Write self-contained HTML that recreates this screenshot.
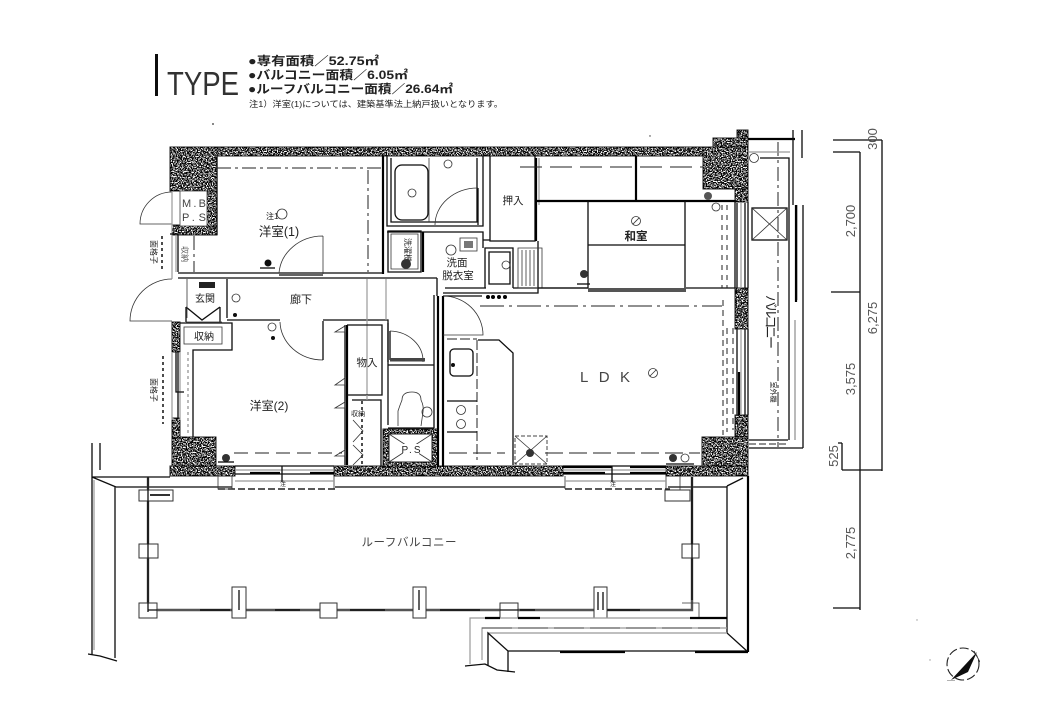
<!DOCTYPE html>
<html><head><meta charset="utf-8"><style>
html,body{margin:0;padding:0;background:#fff;width:1040px;height:720px;overflow:hidden}
svg{display:block}
text{font-family:"Liberation Sans","Noto Sans CJK JP",sans-serif;fill:#222}
.k{stroke:#111;stroke-width:1.3;fill:none}
.b{stroke:#000;stroke-width:2.2;fill:none}
.t{stroke:#333;stroke-width:.8;fill:none}
.g{stroke:#999;stroke-width:1.2;fill:none}
.d{stroke:#222;stroke-width:1;fill:none;stroke-dasharray:14 4 3 4}
.s{stroke:#222;stroke-width:1.6;fill:none;stroke-dasharray:3 3}
.n{fill:#555;font-size:13px}
</style></head><body>
<svg width="1040" height="720" viewBox="0 0 1040 720" xmlns="http://www.w3.org/2000/svg">
<defs>
<filter id="h" filterUnits="userSpaceOnUse" x="0" y="0" width="1040" height="720" color-interpolation-filters="sRGB">
<feTurbulence type="fractalNoise" baseFrequency="0.8" numOctaves="2" seed="7"/>
<feColorMatrix type="matrix" values="0 0 0 0 0  0 0 0 0 0  0 0 0 0 0  8 0 0 0 -3.2"/>
<feComposite in2="SourceAlpha" operator="in"/>
</filter>
<filter id="sf" x="0" y="0" width="1" height="1"><feGaussianBlur stdDeviation="0.35"/></filter>
</defs>
<rect width="1040" height="720" fill="#fff"/>
<g filter="url(#sf)">

<!-- heading -->
<rect x="155" y="54" width="3" height="42" fill="#111"/>
<text x="167" y="95" font-size="33" textLength="72" lengthAdjust="spacingAndGlyphs" style="fill:#333">TYPE</text>
<text x="248" y="65" font-size="12" font-weight="bold" textLength="131" lengthAdjust="spacingAndGlyphs">●専有面積／52.75㎡</text>
<text x="248" y="79" font-size="12" font-weight="bold" textLength="160" lengthAdjust="spacingAndGlyphs">●バルコニー面積／6.05㎡</text>
<text x="248" y="93" font-size="12" font-weight="bold" textLength="205" lengthAdjust="spacingAndGlyphs">●ルーフバルコニー面積／26.64㎡</text>
<text x="249" y="107" font-size="8.5" textLength="254" lengthAdjust="spacingAndGlyphs">注1）洋室(1)については、建築基準法上納戸扱いとなります。</text>

<!-- hatch walls -->
<g fill="#fff" stroke="#222" stroke-width="1">
<rect x="170" y="147" width="578" height="9"/>
<rect x="170" y="147" width="47" height="44"/>
<rect x="172" y="225" width="45" height="10"/>
<rect x="703" y="147" width="45" height="42"/>
<rect x="735" y="189" width="13" height="13"/>
<rect x="735" y="288" width="13" height="41"/>
<rect x="735" y="415" width="13" height="61"/>
<rect x="702" y="437" width="46" height="39"/>
<rect x="172" y="437" width="44" height="39"/>
<rect x="172" y="418" width="8" height="20"/>
<rect x="172" y="322" width="8" height="30"/>
<rect x="170" y="466" width="65" height="10"/>
<rect x="334" y="466" width="229" height="10"/>
<rect x="666" y="466" width="82" height="10"/>
<rect x="713" y="138" width="35" height="9"/>
<rect x="737" y="130" width="11" height="8"/>
<rect x="207" y="191" width="10" height="36"/>
<rect x="383" y="429" width="55" height="38"/>
</g>
<g fill="#000" filter="url(#h)">
<rect x="170" y="147" width="578" height="9"/>
<rect x="170" y="147" width="47" height="44"/>
<rect x="172" y="225" width="45" height="10"/>
<rect x="703" y="147" width="45" height="42"/>
<rect x="735" y="189" width="13" height="13"/>
<rect x="735" y="288" width="13" height="41"/>
<rect x="735" y="415" width="13" height="61"/>
<rect x="702" y="437" width="46" height="39"/>
<rect x="172" y="437" width="44" height="39"/>
<rect x="172" y="418" width="8" height="20"/>
<rect x="172" y="322" width="8" height="30"/>
<rect x="170" y="466" width="65" height="10"/>
<rect x="334" y="466" width="229" height="10"/>
<rect x="666" y="466" width="82" height="10"/>
<rect x="713" y="138" width="35" height="9"/>
<rect x="737" y="130" width="11" height="8"/>
<rect x="207" y="191" width="10" height="36"/>
<rect x="383" y="429" width="55" height="38"/>
</g>
<rect x="389" y="434" width="43" height="28" fill="#fff" stroke="#222"/>
<rect x="180" y="191" width="27" height="35" fill="#fff" stroke="#444" stroke-width=".8"/>

<!-- left exterior and doors -->
<path class="t" d="M172 192A32 32 0 0 0 140 224H172"/>
<path class="t" d="M172 279A42 42 0 0 0 130 321H172"/>
<path class="g" d="M172 191V279M176 234V272M172 352V420M180 352V420"/>
<path class="k" d="M170 234H178V272M176 352V392H184M178 352V418"/>
<path class="s" d="M162 236V272M163 356V424" stroke-width="2.5"/>
<path class="d" d="M194 236V272"/>
<text x="194" y="207" font-size="11" text-anchor="middle" textLength="24" style="fill:#444">M.B</text>
<text x="194" y="221" font-size="11" text-anchor="middle" textLength="24" style="fill:#444">P.S</text>
<text transform="translate(151,252) rotate(90)" font-size="8" text-anchor="middle">面格子</text>
<text transform="translate(151,390) rotate(90)" font-size="8" text-anchor="middle">面格子</text>
<text transform="translate(182,254) rotate(90)" font-size="8" text-anchor="middle" style="fill:#666">収納</text>

<!-- Room 1 -->
<path class="k" d="M217 156V235"/>
<path class="b" d="M383 156V274"/>
<path class="d" d="M217 168H381M368 170V272"/>
<path class="k" d="M178 273H279M323 273H383M178 278H437"/>
<rect x="279" y="272" width="44" height="4" fill="#666"/>
<path class="t" d="M323 236V274M323 236A44 40 0 0 0 279 273"/>
<text x="279" y="236" font-size="12.5" text-anchor="middle">洋室(1)</text>
<text x="266" y="219" font-size="8">注1</text>
<circle cx="282" cy="214" r="5" class="t"/>
<circle cx="268" cy="263" r="3.5" fill="#111"/><path class="k" d="M260 268H275"/>

<!-- corridor -->
<path class="k" d="M227 279V318M227 320H280M323 320H388V323M437 278V296M388 323V362"/>
<text x="301" y="303" font-size="11" text-anchor="middle">廊下</text>
<text x="205" y="302" font-size="10" text-anchor="middle">玄関</text>
<circle cx="236" cy="298" r="4" class="t"/><circle cx="235" cy="315" r="2" fill="#111"/>
<path class="k" d="M186 307V322M220 307V322M186 307L202 320L220 307"/><path class="t" d="M186 322H222"/>
<rect x="199" y="282" width="16" height="6" fill="#222"/>
<path class="t" d="M187 279V318"/>
<path class="g" d="M367 279V395M386 279V320"/>
<!-- storage near entry -->
<path class="k" d="M180 323H232V350H193V437"/>
<rect x="184" y="327" width="38" height="17" class="t"/>
<text x="204" y="340" font-size="10" text-anchor="middle">収納</text>
<path class="s" style="stroke:#aaa" d="M188 352V437"/>

<!-- room 2 -->
<path class="t" d="M323 321V360M323 360A43 39 0 0 1 280 322"/>
<path class="k" d="M323 321V360"/>
<circle cx="272" cy="327" r="4" class="t"/><circle cx="273" cy="338" r="2" fill="#111"/>
<text x="269" y="410" font-size="12" text-anchor="middle">洋室(2)</text>
<path class="k" d="M345 325V465"/>
<path class="b" d="M347 325V465" stroke-width="1.2"/>
<path class="k" d="M347 325H382V395H347M352 400H381V466"/>
<text x="367" y="366" font-size="10.5" text-anchor="middle">物入</text>
<path class="t" d="M345 332L335 332L345 326ZM345 385L335 385L345 378ZM345 408L335 408L345 402ZM345 456L335 456L345 450Z"/>
<path class="s" d="M362 401V465" stroke-width="1.2"/>
<path class="t" d="M353 420L363 431L353 442M353 445L363 455L353 465"/>
<text x="358" y="416" font-size="7" text-anchor="middle">収納</text>
<path class="g" d="M367 395V400"/>
<path class="d" d="M234 453H342" style="stroke-dasharray:14 7"/>
<circle cx="226" cy="458" r="4" fill="#333"/><path class="k" d="M218 462H234"/>

<!-- toilet -->
<path class="k" d="M388 323V425M388 365H434M434 295V428M388 428H434"/>
<path class="k" d="M390 331V360"/>
<path class="t" d="M390 331A34 30 0 0 1 423 362"/>
<rect x="390" y="358" width="35" height="3.5" fill="#444"/>
<path class="t" d="M398 426V411Q400 405 402 400Q402 392 412 392Q421 392 421 400Q424 406 423 412L421 426"/>
<circle cx="427" cy="412" r="5" class="t"/>
<path class="b" d="M438 296V467" stroke-width="1.5"/><path class="b" d="M443 296V467" stroke-width="1.5"/>
<path class="t" d="M389 434L432 462M432 434L389 462"/>
<rect x="403" y="444" width="16" height="11" fill="#fff"/>
<text x="411" y="453" font-size="10" text-anchor="middle" textLength="19">P.S</text>

<!-- bath -->
<path class="k" d="M387 156V226H483V156"/>
<path class="k" d="M391 158V222H477V158"/>
<rect x="395" y="165" width="33" height="55" rx="7" class="k"/>
<path class="t" d="M429 158V222"/>
<circle cx="412" cy="193" r="4" class="t"/><circle cx="448" cy="164" r="4" class="t"/>
<path class="k" d="M478 188V225"/><path class="t" d="M478 188A43 37 0 0 0 435 225"/>

<!-- washing -->
<path class="k" d="M388 231H421V272H388Z"/>
<path class="t" d="M391 234H418V269H391Z"/>
<text transform="translate(405,250) rotate(90)" font-size="8" text-anchor="middle">洗濯機</text>
<circle cx="406" cy="264" r="5" fill="#333"/>
<path class="b" d="M423 232V272" stroke-width="1.6"/>
<path class="k" d="M387 232H483V248M483 232V240H490"/>
<circle cx="451" cy="250" r="5" class="t"/>
<rect x="460" y="238" width="17" height="13" class="t"/><rect x="464" y="241" width="9" height="7" fill="#777"/>
<text x="457" y="266" font-size="10.5" text-anchor="middle">洗面</text>
<text x="458" y="279" font-size="10.5" text-anchor="middle">脱衣室</text>
<path class="k" d="M485 288V248H513V288M489 252H510V284H489Z"/>
<circle cx="506" cy="265" r="4" class="t"/>
<path class="k" d="M443 293H538V241"/>
<path class="k" d="M445 288H486M513 288H588M443 296H482"/>
<circle cx="488" cy="297" r="2" fill="#000"/><circle cx="493" cy="297" r="2" fill="#000"/><circle cx="499" cy="297" r="2" fill="#000"/><circle cx="505" cy="297" r="2" fill="#000"/>
<path class="t" d="M518 248H542V288H518ZM522 250V286M526 250V286M530 250V286M534 250V286"/>

<!-- closet + washitsu -->
<path class="k" d="M490 156V241H535V156"/>
<path class="b" d="M536 158V241" stroke-width="1.5"/>
<path class="g" d="M539 158V205" stroke-width="3"/>
<text x="513" y="204" font-size="10.5" text-anchor="middle">押入</text>
<path class="d" d="M520 167H703" style="stroke-dasharray:22 8"/>
<path class="b" d="M636 156V201" stroke-width="1"/>
<path class="b" d="M537 201H735" stroke-width="1.6"/>
<path class="k" d="M588 201V288M685 201V288M588 245H685" stroke-width="1"/>
<path class="k" d="M538 288H588M686 288H735M735 201V288"/>
<rect x="588" y="288" width="98" height="4" fill="#555"/>
<circle cx="636" cy="221" r="4.5" class="t"/><path class="t" d="M633 224L639 218"/>
<text x="636" y="240" font-size="11.5" text-anchor="middle" font-weight="bold">和室</text>
<circle cx="584" cy="274" r="4" fill="#333"/><path class="k" d="M577 284H590"/>
<path class="d" d="M722 205V288M727 205V288" style="stroke-dasharray:5 5"/>
<path class="k" d="M737 203V288M745 203V290" />
<path class="g" d="M741 203V288" stroke-width="2"/>
<circle cx="708" cy="196" r="4" fill="#555"/><circle cx="716" cy="207" r="4" class="t"/>

<!-- LDK -->
<path class="t" d="M443 296A40 39 0 0 1 483 335H443"/>
<path class="k" d="M478 340H499L513 353V465"/>
<path class="d" d="M447 339H477M477 340V460" style="stroke-dasharray:10 3"/>
<rect x="450" y="349" width="23" height="27" rx="4" class="k"/>
<circle cx="453" cy="365" r="2" fill="#111"/>
<path class="k" d="M447 401H477M447 432H477"/>
<circle cx="461" cy="410" r="4.5" class="t"/><circle cx="461" cy="424" r="4.5" class="t"/>
<path class="d" d="M449 453H505M545 453H700" style="stroke-dasharray:18 6"/>
<path class="d" d="M480 306H722" style="stroke-dasharray:24 5 3 5"/>
<path class="d" d="M723 300V435M727 328V432M733 328V430" style="stroke-dasharray:6 4"/>
<path class="k" d="M737 329V415M745 329V415"/><path class="g" d="M741 329V415" stroke-width="2"/>
<path class="b" d="M739 372V415" stroke-width="1.5"/>
<text x="605" y="382" font-size="15" text-anchor="middle" textLength="50" style="fill:#444">LDK</text>
<circle cx="653" cy="373" r="4.5" class="t"/><path class="t" d="M650 376L656 370"/>
<rect x="515" y="436" width="32" height="28" style="stroke:#444;stroke-dasharray:4 2;fill:none"/>
<path class="t" d="M515 436L547 464M547 436L515 464"/>
<circle cx="530" cy="453" r="4" fill="#333"/>
<circle cx="673" cy="458" r="4" fill="#333"/><circle cx="685" cy="458" r="4" class="t"/><path class="k" d="M666 464H694"/>

<!-- balcony windows bottom -->
<path class="k" d="M235 466H334M235 474H334M563 466H666M563 474H666"/>
<path class="g" d="M235 470H334M563 470H666" stroke-width="2"/>
<path class="b" d="M250 473H280M310 473H334M563 467H612M630 467H666M563 473H605M630 473H666" stroke-width="1.2"/>

<!-- right balcony -->
<path class="b" d="M748 139H795" stroke-width="1.6"/>
<path class="k" d="M748 202V288M748 329V415"/>
<path class="d" d="M778 142V447" stroke-width="1.3"/>
<path class="g" d="M749 152H790"/>
<path class="k" d="M760 158H789V440M793 130V205M802 130V158M803 205V448M749 448H803"/>
<path class="g" d="M797 205V300M795 320V440" stroke-width="2"/>
<path class="b" d="M796 205V302" stroke-width="1.2"/>
<path class="k" d="M749 440H788"/>
<path class="g" d="M795 320V440"/>
<path class="d" d="M749 444H787" style="stroke-dasharray:7 3"/>
<rect x="752" y="208" width="35" height="32" class="k"/>
<path class="t" d="M752 208L787 240M787 208L752 240"/>
<circle cx="754" cy="158" r="4.5" class="t"/>
<text transform="translate(766,322) rotate(90)" font-size="13" text-anchor="middle" textLength="54">バルコニー</text>
<text transform="translate(771,392) rotate(90)" font-size="7" text-anchor="middle">室外機</text>

<!-- dimensions -->
<path class="k" d="M882 140V471M833 140H882M833 152H860M860 152V610M831 292H860M842 470H882M842 443V470M838 443H842M833 608H860" stroke-width="1"/>
<text class="n" transform="translate(877,139) rotate(-90)" text-anchor="middle">300</text>
<text class="n" transform="translate(855,221) rotate(-90)" text-anchor="middle">2,700</text>
<text class="n" transform="translate(877,318) rotate(-90)" text-anchor="middle">6,275</text>
<text class="n" transform="translate(855,379) rotate(-90)" text-anchor="middle">3,575</text>
<text class="n" transform="translate(838,456) rotate(-90)" text-anchor="middle">525</text>
<text class="n" transform="translate(855,543) rotate(-90)" text-anchor="middle">2,775</text>

<!-- roof balcony -->
<path class="k" d="M92 477H170M92 443V477M92 477V655M115 487V658M92 477L116 487M116 487H232M335 487H565M668 487H727"/>
<path class="k" d="M100 443V470" stroke="#999"/>
<path class="k" d="M88 654L100 656L117 661"/>
<path class="g" d="M94 480V650"/>
<path class="s" d="M218 489H335M565 489H670" style="stroke-dasharray:7 3"/>
<path class="t" d="M218 476V489H232V476M334 476V489M565 476V489M680 476V490M666 476V490"/>
<path class="g" d="M235 481H334M565 481H666"/>
<path class="k" d="M612 466V482" /><path class="k" d="M282 466V482"/>
<text x="283" y="486" font-size="6" text-anchor="middle">注</text><text x="613" y="486" font-size="6" text-anchor="middle">注</text>
<path d="M148 477V610H692V477" style="fill:none;stroke:#555;stroke-width:2.4"/>
<path d="M200 610H230M275 610H300M350 610H385M440 610H480M520 610H535M605 610H640M148 477V610M692 477V600" style="fill:none;stroke:#111;stroke-width:1.4"/>
<g style="fill:#fff;stroke:#333;stroke-width:1">
<rect x="139" y="490" width="34" height="11"/>
<rect x="139" y="544" width="19" height="14"/>
<rect x="139" y="603" width="18" height="15"/>
<rect x="232" y="587" width="14" height="31"/>
<rect x="320" y="603" width="17" height="15"/>
<rect x="413" y="587" width="13" height="31"/>
<rect x="500" y="603" width="18" height="15"/>
<rect x="594" y="587" width="13" height="31"/>
<rect x="665" y="490" width="25" height="11"/>
<rect x="682" y="544" width="17" height="14"/>
</g>
<path class="k" d="M148 490V558M148 603V612M692 490V558M148 610H157M500 610H518" stroke-width="1.5"/>
<path class="t" d="M682 603H699V618"/>
<rect x="150" y="494" width="20" height="2" fill="#333"/>
<path class="k" d="M239 590V610M419 590V610M598 592V610M603 592V610"/>
<text x="409" y="546" font-size="11.5" text-anchor="middle" textLength="95" style="fill:#444">ルーフバルコニー</text>

<path class="b" d="M748 476V652" stroke-width="2.2"/>
<path class="k" d="M743 478L727 486M727 486V633L748 652"/>
<path class="g" d="M470 664V618H699"/>
<path class="b" d="M485 618H500M518 618H540M690 618H727" stroke-width="1.3"/>
<path class="g" d="M482 660V628H727"/>
<path class="t" d="M482 628H720" style="stroke-dasharray:30 6"/>
<path class="g" d="M488 633H727"/>
<path class="k" d="M488 666V633L508 651V672M508 651H748" stroke-width="1.1"/>
<path class="b" d="M560 652H625M695 652H748" stroke-width="1.5"/>
<path class="k" d="M465 666L485 664L497 670L515 672"/>

<!-- compass -->
<circle cx="963" cy="664" r="16" style="fill:none;stroke:#222;stroke-width:1.1;stroke-dasharray:9 3"/>
<path d="M951 680L977 652L968 672Z" fill="#111"/>
<path d="M947 681H955M974 651L980 662" class="t"/>

<!-- specks -->
<circle cx="213" cy="124" r=".9" fill="#333"/><circle cx="650" cy="136" r=".7" fill="#333"/><circle cx="917" cy="620" r=".7" fill="#999"/><circle cx="930" cy="660" r=".7" fill="#999"/>
</g>
</svg>
</body></html>
